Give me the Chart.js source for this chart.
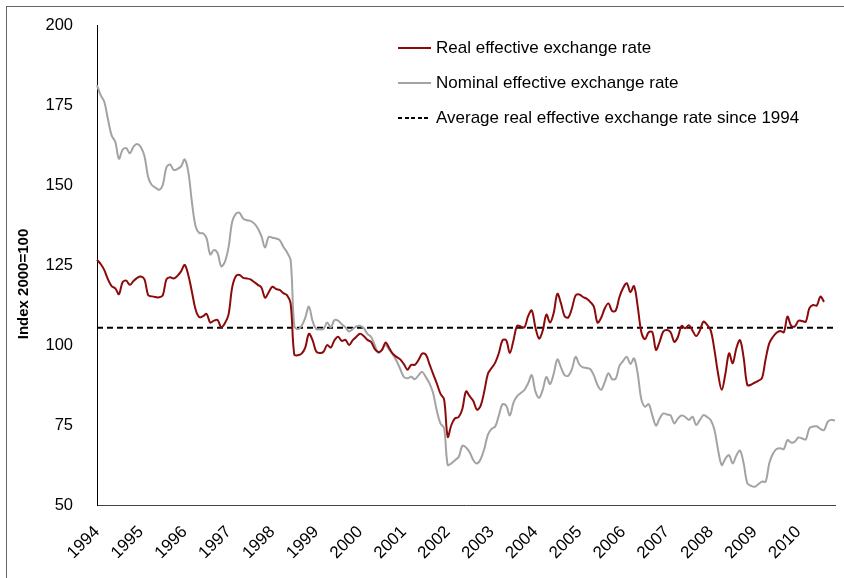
<!DOCTYPE html>
<html>
<head>
<meta charset="utf-8">
<script src="https://cdn.jsdelivr.net/npm/chart.js@4.4.1/dist/chart.umd.min.js"></script>
<style>
  body { margin: 0; background: #fff; }
  #wrap { position: relative; width: 844px; height: 578px; overflow: hidden; }
  #frame {
    position: absolute; left: 6px; top: 6px; width: 900px; height: 700px;
    border-left: 1px solid #666; border-top: 1px solid #666; pointer-events: none;
  }
  #legend {
    position: absolute; left: 398px; top: 30px;
    font-family: "Liberation Sans", Arial, sans-serif;
    font-size: 17px; color: #000;
  }
  .item { display: flex; align-items: center; height: 35px; }
  .swatch { width: 33px; height: 2px; margin-right: 5px; }
  #ytitle {
    position: absolute; left: 22px; top: 284px;
    transform: translate(-50%, -50%) rotate(-90deg);
    font-family: "Liberation Sans", Arial, sans-serif;
    font-size: 15px; font-weight: bold; white-space: nowrap; color: #000;
  }
</style>
</head>
<body>
<div id="wrap">
  <canvas id="chart" width="844" height="578"></canvas>
  <div id="frame"></div>
  <div id="ytitle">Index 2000=100</div>
  <div id="legend">
    <div class="item"><span class="swatch" style="background:#8b0a0a"></span>Real effective exchange rate</div>
    <div class="item"><span class="swatch" style="background:#a3a3a3"></span>Nominal effective exchange rate</div>
    <div class="item"><span class="swatch" style="background:repeating-linear-gradient(to right,#000 0 4px,transparent 4px 6.6px)"></span>Average real effective exchange rate since 1994</div>
  </div>
</div>
<script>
// years on the axis, one label per January
const years = [1994, 1995, 1996, 1997, 1998, 1999, 2000, 2001, 2002, 2003, 2004, 2005, 2006, 2007, 2008, 2009, 2010];
const monthsInLastYear = 11; // data run to Nov 2010

// monthly index values (2000 = 100), Jan 1994 onwards
const realRate = [
  126.6, 125.3, 123.4, 120.5, 118.4, 117.7, 115.9, 119.6, 120.1, 118.8, 120.0, 121.0,
  121.4, 120.5, 115.6, 115.2, 115.0, 114.9, 115.5, 120.5, 121.2, 120.8, 121.6, 123.0,
  125.0, 121.8, 116.5, 111.0, 108.7, 109.0, 109.7, 107.0, 107.6, 107.8, 105.6, 106.8,
  109.5, 118.0, 121.5, 121.9, 121.0, 120.8, 120.5, 119.7, 118.8, 118.0, 114.8, 116.5,
  118.2, 117.5, 117.2, 116.2, 115.6, 113.0, 97.0, 96.8, 97.3, 99.2, 103.5, 101.5,
  98.0, 97.5, 97.9, 100.0, 99.2, 101.5, 102.6, 101.3, 101.6, 100.0, 101.5, 102.6,
  103.5, 102.8, 101.6, 101.0, 98.8, 97.8, 98.5, 100.8, 99.0, 97.2, 96.3, 95.5,
  94.0, 92.3, 93.8, 93.8, 95.3, 97.3, 97.0, 94.0, 91.0, 88.0, 84.8, 83.0,
  71.3, 75.0, 77.1, 77.5, 80.0, 85.5, 84.0, 82.5, 79.8, 81.0, 85.5, 91.0,
  92.8, 94.5, 97.5, 101.5, 101.5, 97.5, 101.5, 106.0, 105.8, 105.5, 109.0, 110.8,
  105.5, 102.0, 104.5, 109.5, 107.0, 110.0, 116.0, 113.0, 109.0, 108.6, 111.5, 115.5,
  115.8, 115.0, 114.5, 113.5, 112.0, 107.0, 108.5, 111.5, 113.0, 110.6, 110.8, 115.0,
  117.8, 119.3, 116.5, 118.4, 112.0, 104.0, 101.8, 104.0, 104.0, 98.5, 101.0, 104.2,
  104.7, 104.0, 101.0, 102.5, 106.0, 105.2, 106.2, 104.5, 102.8, 104.5, 107.3, 106.3,
  104.5, 98.5, 91.0, 86.0, 91.0, 97.4, 94.3, 99.0, 101.5, 96.0, 87.5, 87.6,
  88.2, 88.8, 89.6, 95.5, 100.5, 102.5, 103.8, 104.4, 104.0, 108.9, 106.0, 105.8,
  107.6, 107.5, 107.3, 111.5, 112.5, 112.3, 115.1, 113.5
];

const nominalRate = [
  181.2, 178.1, 176.0, 170.5, 165.5, 163.5, 158.2, 161.0, 161.5, 159.9, 162.0, 162.8,
  161.8, 159.0, 152.5, 150.0, 149.2, 148.5, 150.0, 155.5, 156.4, 154.7, 155.0, 155.8,
  158.0, 154.0, 144.5, 137.0, 135.0, 134.9, 133.3, 128.3, 129.7, 128.7, 124.6, 126.0,
  130.5, 138.5, 141.0, 141.3, 139.5, 139.0, 138.8, 138.0, 136.5, 134.0, 130.5, 133.8,
  133.5, 133.3, 132.8, 130.7, 129.0, 126.5, 106.0, 104.9, 106.0, 108.5, 112.0, 107.5,
  105.0, 104.9, 105.0, 107.0, 105.5, 107.8, 107.6, 106.5, 105.5, 104.2, 105.0, 105.8,
  106.0, 105.3, 103.5, 102.6, 100.0, 97.5, 98.5, 100.0, 98.5, 97.0, 95.0, 92.5,
  90.0, 89.6, 90.1, 89.3, 90.5, 91.6, 90.0, 88.0, 85.0, 79.5, 75.5, 74.0,
  62.5, 63.0, 64.0, 65.0, 68.5, 68.0, 66.5, 64.0, 63.0, 64.3, 67.5, 72.0,
  73.8, 74.5, 78.0, 81.5, 81.0, 78.0, 82.0, 84.0, 85.0, 86.0, 88.0, 90.6,
  85.5, 83.5, 86.0, 90.0, 87.8, 91.0, 95.5, 93.0, 90.6, 90.4, 92.5, 96.3,
  94.0, 93.0, 92.8, 92.5, 90.5, 87.5, 86.0, 88.5, 91.2, 89.3, 89.5, 93.5,
  95.0, 96.3, 94.1, 95.8, 91.0, 83.0, 80.7, 81.5, 78.0, 74.8, 77.0, 78.6,
  78.3, 78.0, 75.5, 77.0, 78.0, 77.5, 76.6, 77.6, 75.0, 76.5, 78.1, 77.5,
  76.5, 73.5, 67.2, 62.5, 64.5, 65.6, 63.0, 65.5, 67.0, 63.0, 56.8, 56.0,
  55.7, 56.5, 57.3, 57.3, 63.0, 66.0, 67.5, 67.7, 67.5, 70.3, 69.5, 69.8,
  71.1, 70.8, 70.5, 74.0, 74.5, 74.6, 73.8, 73.4, 76.0, 76.6, 76.4
];

const averageReal = 105.4;

const yTicks = [50, 75, 100, 125, 150, 175, 200];

const fontFamily = '"Liberation Sans", Arial, sans-serif';

// month labels "YYYY-MM"
const months = [];
years.forEach((y, i) => {
  const n = i === years.length - 1 ? monthsInLastYear : 12;
  for (let m = 1; m <= n; m++) months.push(y + '-' + String(m).padStart(2, '0'));
});

const avgLine = months.map(() => averageReal);

new Chart(document.getElementById('chart').getContext('2d'), {
  type: 'line',
  data: {
    labels: months,
    datasets: [
      { label: 'Average real effective exchange rate since 1994', data: avgLine,
        borderColor: '#000', borderWidth: 2, borderDash: [6, 4], pointRadius: 0, tension: 0, order: 3 },
      { label: 'Nominal effective exchange rate', data: nominalRate,
        borderColor: '#a3a3a3', borderWidth: 2, pointRadius: 0, tension: 0.35, order: 2 },
      { label: 'Real effective exchange rate', data: realRate,
        borderColor: '#8b0a0a', borderWidth: 2, pointRadius: 0, tension: 0.35, order: 1 }
    ]
  },
  options: {
    responsive: false,
    animation: false,
    layout: { padding: { top: 25, right: 9, left: 0, bottom: 0 } },
    plugins: { legend: { display: false }, tooltip: { enabled: false } },
    scales: {
      x: {
        type: 'category',
        offset: false,
        grid: { display: false, drawTicks: false },
        border: { display: true, color: '#444', width: 1 },
        afterFit: s => { s.height = 73; },
        ticks: {
          autoSkip: false,
          maxRotation: 45, minRotation: 45,
          padding: 17,
          color: '#000',
          font: { family: fontFamily, size: 17 },
          callback: function (val) {
            const lab = this.getLabelForValue(val);
            return lab.endsWith('-01') ? lab.slice(0, 4) : null;
          }
        }
      },
      y: {
        min: 50, max: 200,
        afterFit: s => { s.width = 97; s.paddingTop = 0; s.paddingBottom = 0; },
        afterBuildTicks: s => { s.ticks = yTicks.map(v => ({ value: v })); },
        grid: { display: false, drawTicks: false },
        border: { display: true, color: '#000', width: 1 },
        ticks: { padding: 24, color: '#000', font: { family: fontFamily, size: 16.5 } },
        title: { display: false }
      }
    }
  }
});
</script>
</body>
</html>
